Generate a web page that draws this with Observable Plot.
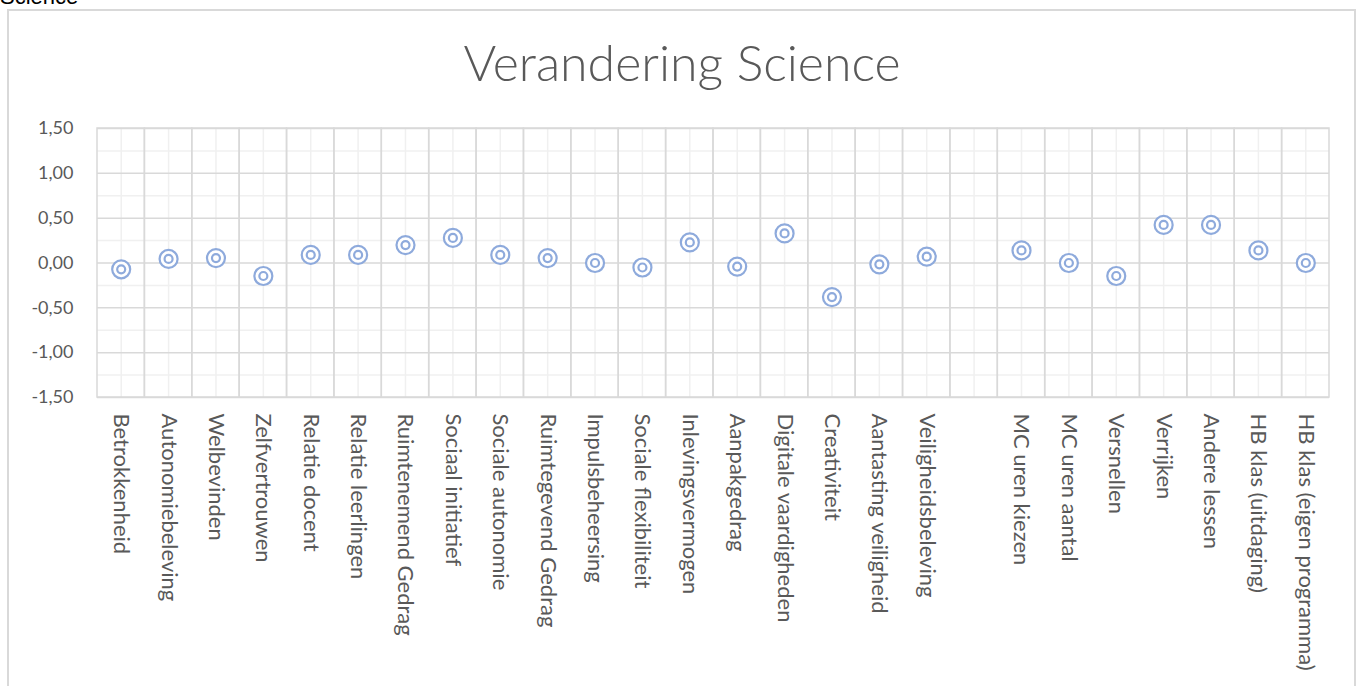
<!DOCTYPE html>
<html>
<head>
<meta charset="utf-8">
<script src="https://cdn.jsdelivr.net/npm/d3@7"></script>
<script src="https://cdn.jsdelivr.net/npm/@observablehq/plot@0.6"></script>
<style>
  html, body { margin: 0; padding: 0; background: #fff; }
  body { width: 1364px; height: 686px; overflow: hidden; position: relative; font-family: Lato, "Open Sans", sans-serif; }
  #sheet { position: absolute; left: 0; top: -16px; font-family: "Liberation Sans", Arial, sans-serif; font-size: 22px; color: #000; }
  #frame { position: absolute; left: 7px; top: 9px; width: 1349px; height: 700px; border: 2px solid #d9d9d9; box-sizing: border-box; }
  #title { position: absolute; left: 0; top: 32px; width: 1364px; text-align: center; font-family: Lato, sans-serif; font-weight: 300; font-size: 50px; color: #595959; line-height: 1.2; }
  #chart { position: absolute; left: 0; top: 100px; }
</style>
</head>
<body>
<div id="sheet">Science</div>
<div id="frame"></div>
<div id="title">Verandering Science</div>
<div id="chart"></div>
<script>
const categories = [
  "Betrokkenheid", "Autonomiebeleving", "Welbevinden", "Zelfvertrouwen",
  "Relatie docent", "Relatie leerlingen", "Ruimtenemend Gedrag", "Sociaal initiatief",
  "Sociale autonomie", "Ruimtegevend Gedrag", "Impulsbeheersing", "Sociale flexibiliteit",
  "Inlevingsvermogen", "Aanpakgedrag", "Digitale vaardigheden", "Creativiteit",
  "Aantasting veiligheid", "Veiligheidsbeleving", " ",
  "MC uren kiezen", "MC uren aantal", "Versnellen", "Verrijken", "Andere lessen",
  "HB klas (uitdaging)", "HB klas (eigen programma)"
];
const values = [
  -0.07, 0.045, 0.055, -0.145,
  0.09, 0.09, 0.20, 0.28,
  0.09, 0.055, 0.00, -0.05,
  0.23, -0.04, 0.33, -0.38,
  -0.015, 0.07, null,
  0.14, 0.00, -0.145, 0.425, 0.425,
  0.14, 0.00
];
const yTicks = [-1.5, -1.0, -0.5, 0, 0.5, 1.0, 1.5];
const yMinor = [-1.25, -0.75, -0.25, 0.25, 0.75, 1.25];

const data = categories.map((c, i) => ({cat: c, v: values[i]})).filter(d => d.v !== null);
const fmt = d => d3.format(".2f")(d).replace(".", ",").replace("\u2212", "-");

const plot = Plot.plot({
  width: 1364,
  height: 586,
  marginTop: 28,
  marginBottom: 289,
  marginLeft: 97,
  marginRight: 35,
  style: {fontFamily: "Lato, sans-serif", fontSize: "18px", color: "#595959", background: "transparent", overflow: "visible"},
  x: {type: "band", domain: categories, padding: 0, round: false},
  y: {domain: [-1.5, 1.5]},
  marks: [
    Plot.ruleY(yMinor, {stroke: "#f0f0f0", strokeWidth: 1.5}),
    Plot.ruleX(categories, {x: d => d, stroke: "#f0f0f0", strokeWidth: 1.5}),
    Plot.ruleY(yTicks, {stroke: "#d9d9d9", strokeWidth: 1.5}),
    Plot.cell(categories, {x: d => d, fill: "none", stroke: "#d9d9d9", strokeWidth: 1.5}),
    Plot.dot(data, {x: "cat", y: "v", r: 9, stroke: "#8eaadc", strokeWidth: 2.2, fill: "white"}),
    Plot.dot(data, {x: "cat", y: "v", r: 4, stroke: "#8eaadc", strokeWidth: 2.2, fill: "none"}),
    Plot.axisY({ticks: yTicks, tickFormat: fmt, tickSize: 0, tickPadding: 24, label: null, fontSize: 18, fill: "#595959"}),
    Plot.axisX({tickRotate: 90, tickSize: 0, tickPadding: 16, label: null, fontSize: 22, fill: "#595959", tickFormat: d => d.trim()})
  ]
});
document.getElementById("chart").appendChild(plot);
</script>
</body>
</html>
